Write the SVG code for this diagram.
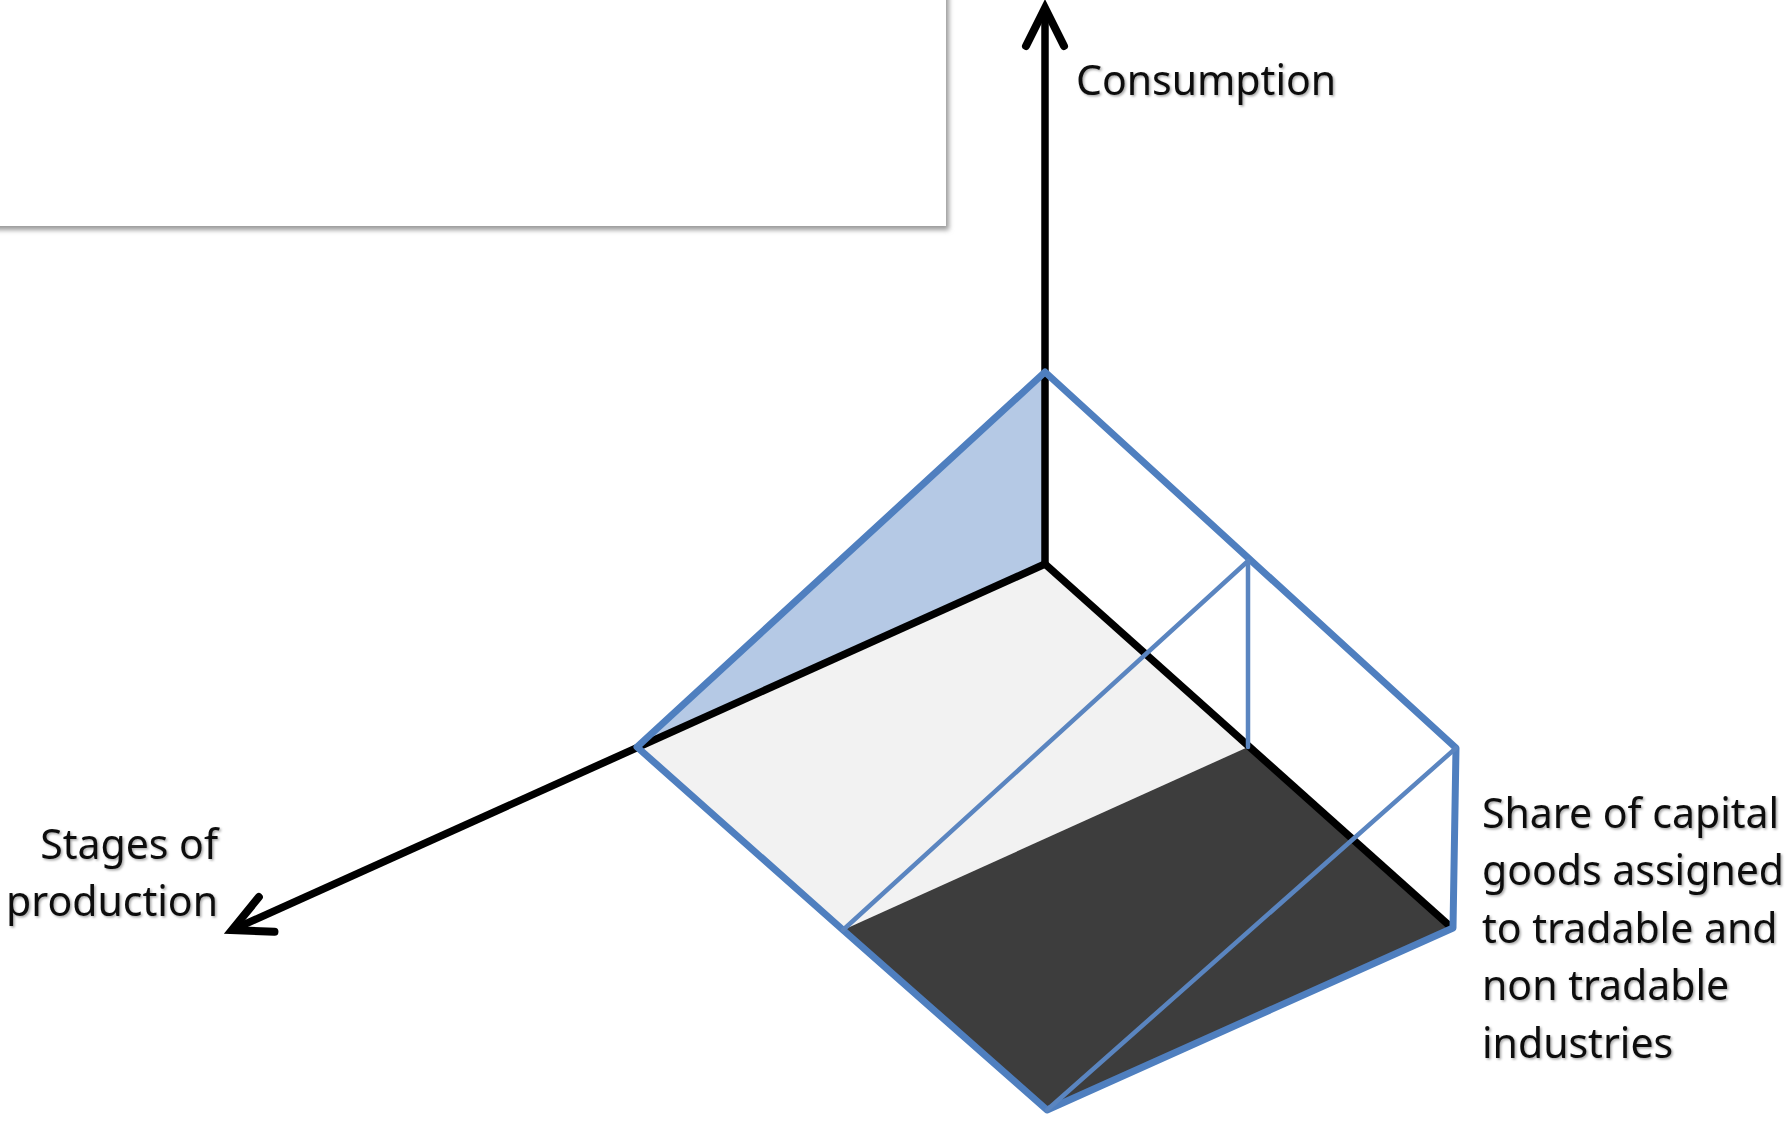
<svg xmlns="http://www.w3.org/2000/svg" width="1791" height="1127" viewBox="0 0 1791 1127">
  <defs>
    <style>
      .lbl { font-family: "Noto Sans", "Open Sans", "Liberation Sans", sans-serif; font-size: 41px; fill: #111; filter: url(#tshadow); }
      .edge { fill: none; stroke: #4f7fbf; stroke-width: 7; stroke-linecap: round; stroke-linejoin: round; }
      .inner { fill: none; stroke: #5a85c0; stroke-width: 4.5; stroke-linecap: round; }
      .axis { fill: none; stroke: #000; stroke-width: 7.5; }
    </style>
    <filter id="shadow" x="-5%" y="-5%" width="110%" height="130%">
      <feGaussianBlur stdDeviation="2.5"/>
    </filter>
    <filter id="tshadow" x="-5%" y="-20%" width="110%" height="150%">
      <feDropShadow dx="1.5" dy="1.5" stdDeviation="1.2" flood-color="#000" flood-opacity="0.35"/>
    </filter>
    <marker id="open" markerUnits="userSpaceOnUse" markerWidth="60" markerHeight="60" refX="0" refY="0" viewBox="-50 -30 60 60" orient="auto" overflow="visible">
      <path d="M -38 -19 L 0 0 L -38 19" fill="none" stroke="#000" stroke-width="8" stroke-linecap="round" stroke-linejoin="miter"/>
    </marker>
  </defs>

  <rect width="1791" height="1127" fill="#fff"/>

  <g id="textbox">
    <rect x="-20" y="-20" width="969" height="250" fill="#9a9a9a" filter="url(#shadow)"/>
    <rect x="-20" y="-20" width="966" height="246" fill="#fff"/>
  </g>

  <g id="faces">
    <polygon id="face-blue" points="1045,372 1045,564 637,747" fill="#b5c9e5"/>
    <polygon id="face-gray" points="637,747 1045,564 1248,747 843,930" fill="#f2f2f2"/>
    <polygon id="face-dark" points="843,930 1248,747 1452,928 1047,1110" fill="#3d3d3d"/>
  </g>

  <g id="connectors">
    <line class="axis" x1="1045" y1="566" x2="1045" y2="8" marker-end="url(#open)"/>
    <line class="axis" x1="1045" y1="564" x2="232" y2="930" marker-end="url(#open)"/>
    <line class="axis" x1="1045" y1="564" x2="1452" y2="928"/>
  </g>

  <g id="box-edges">
    <polygon class="edge" points="1045,372 1456,748 1453,928 1047,1110 843,930 637,747"/>
    <line class="inner" x1="1047" y1="1110" x2="1456" y2="748"/>
    <line class="inner" x1="843" y1="930" x2="1248" y2="561"/>
    <line class="inner" x1="1248" y1="561" x2="1248" y2="747"/>
  </g>

  <g id="label-consumption">
    <text class="lbl" x="1076" y="95">Consumption</text>
  </g>
  <g id="label-stages">
    <text class="lbl" x="218" y="859" text-anchor="end">Stages of</text>
    <text class="lbl" x="218" y="916" text-anchor="end">production</text>
  </g>
  <g id="label-share">
    <text class="lbl" x="1482" y="828">Share of capital</text>
    <text class="lbl" x="1482" y="885">goods assigned</text>
    <text class="lbl" x="1482" y="943">to tradable and</text>
    <text class="lbl" x="1482" y="1000">non tradable</text>
    <text class="lbl" x="1482" y="1058">industries</text>
  </g>
</svg>
